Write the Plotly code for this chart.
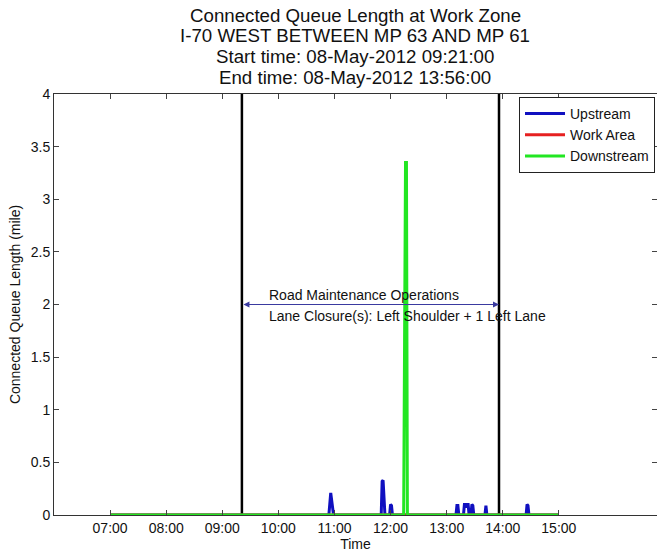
import plotly.graph_objects as go

DAY = "2012-05-08 "

# x-axis tick labels (clock time)
tick_labels = ["07:00", "08:00", "09:00", "10:00", "11:00", "12:00", "13:00", "14:00", "15:00"]
y_ticks = [0, 0.5, 1, 1.5, 2, 2.5, 3, 3.5, 4]

# Upstream queue length (mile)
upstream_times = ["07:00", "10:54", "10:56", "10:57", "10:58", "10:59",
                  "11:50", "11:51", "11:52", "11:53", "11:54",
                  "11:59", "12:00", "12:01", "12:02",
                  "13:10", "13:11", "13:12", "13:13",
                  "13:18", "13:19", "13:20", "13:21", "13:22", "13:23", "13:24",
                  "13:26", "13:27", "13:28", "13:29",
                  "13:41", "13:42", "13:43",
                  "14:25", "14:26", "14:27", "14:28",
                  "15:00"]
upstream_vals = [0, 0, 0.21, 0.13, 0.09, 0,
                 0, 0.32, 0.33, 0.11, 0,
                 0, 0.1, 0.09, 0,
                 0, 0.09, 0.09, 0,
                 0, 0.1, 0.1, 0.07, 0.1, 0.1, 0,
                 0, 0.1, 0.09, 0,
                 0, 0.09, 0,
                 0, 0.1, 0.09, 0,
                 0]

# Work area queue length (mile)
workarea_times = ["07:00", "15:00"]
workarea_vals = [0, 0]

# Downstream queue length (mile)
downstream_times = ["07:00", "12:14", "12:15", "12:16", "12:17", "12:18", "15:00"]
downstream_vals = [0, 0, 1.65, 3.35, 3.35, 0, 0]

# Work zone window
zone_start = "09:21"
zone_end = "13:56"
zone_label_y = 2
zone_text_1 = "Road Maintenance Operations"
zone_text_2 = "Lane Closure(s): Left Shoulder + 1 Left Lane"
zone_text_x = "09:48"

title_lines = ["Connected Queue Length at Work Zone",
               "I-70 WEST BETWEEN MP 63 AND MP 61",
               "Start time: 08-May-2012 09:21:00",
               "End time: 08-May-2012 13:56:00"]

FONT = "Liberation Sans, Arial, sans-serif"


def ts(hm):
    return DAY + hm


fig = go.Figure()

# Work-zone boundaries
for t in (zone_start, zone_end):
    fig.add_trace(go.Scatter(x=[ts(t), ts(t)], y=[y_ticks[0], y_ticks[-1]], mode="lines",
                             line=dict(color="black", width=2.5), showlegend=False,
                             hoverinfo="skip"))

fig.add_trace(go.Scatter(x=[ts(t) for t in upstream_times], y=upstream_vals, mode="lines",
                         name="Upstream", line=dict(color="#1010c0", width=3)))
fig.add_trace(go.Scatter(x=[ts(t) for t in workarea_times], y=workarea_vals, mode="lines",
                         name="Work Area", line=dict(color="#e62020", width=3)))
fig.add_trace(go.Scatter(x=[ts(t) for t in downstream_times], y=downstream_vals, mode="lines",
                         name="Downstream", line=dict(color="#22e622", width=3)))

annotations = []
# Double-headed arrow spanning the work zone
annotations.append(dict(x=ts(zone_end), y=zone_label_y, ax=ts(zone_start), ay=zone_label_y,
                        xref="x", yref="y", axref="x", ayref="y", text="",
                        showarrow=True, arrowside="end+start", arrowhead=2,
                        arrowsize=1.2, arrowwidth=1, arrowcolor="#3a3aa0"))
annotations.append(dict(x=ts(zone_text_x), y=zone_label_y + 0.095, xref="x", yref="y",
                        text=zone_text_1, showarrow=False, xanchor="left", yanchor="middle",
                        font=dict(family=FONT, size=14, color="#111")))
annotations.append(dict(x=ts(zone_text_x), y=zone_label_y - 0.105, xref="x", yref="y",
                        text=zone_text_2, showarrow=False, xanchor="left", yanchor="middle",
                        font=dict(family=FONT, size=14, color="#111")))

# Four-line title
for i, line in enumerate(title_lines):
    annotations.append(dict(x=355, y=15 + i * 20.7, xref="paper", yref="paper", text=line,
                            showarrow=False, font=dict(family=FONT, size=18.7, color="#111"),
                            xanchor="center", yanchor="middle"))

# convert title pixel positions to paper coordinates
plot_l, plot_t, plot_w, plot_h = 54, 94, 603, 421
for a in annotations[3:]:
    a["x"] = (a["x"] - plot_l) / plot_w
    a["y"] = (plot_t + plot_h - a["y"]) / plot_h

fig.update_layout(
    width=657, height=554,
    margin=dict(l=54, r=0, t=94, b=39),
    paper_bgcolor="white", plot_bgcolor="white",
    font=dict(family=FONT, size=14, color="#111"),
    annotations=annotations,
    legend=dict(x=0.9967, y=0.993, xanchor="right", yanchor="top",
                bgcolor="white", bordercolor="#222", borderwidth=1,
                font=dict(family=FONT, size=14, color="#111"),
                tracegroupgap=0, itemwidth=40),
    showlegend=True,
)

fig.update_xaxes(
    type="date", range=[ts("06:00"), ts("16:45")],
    tickvals=[ts(t) for t in tick_labels], ticktext=tick_labels,
    ticks="inside", ticklen=5, tickcolor="#444", tickwidth=1,
    showline=True, linecolor="#333", linewidth=1, mirror="ticks",
    showgrid=False, zeroline=False,
    title=dict(text="Time", font=dict(family=FONT, size=14), standoff=4),
    tickfont=dict(family=FONT, size=14),
)
fig.update_yaxes(
    range=[0, 4], tickvals=y_ticks, ticktext=[f"{v:g}" for v in y_ticks],
    ticks="inside", ticklen=5, tickcolor="#444", tickwidth=1,
    showline=True, linecolor="#333", linewidth=1, mirror="ticks",
    showgrid=False, zeroline=False,
    title=dict(text="Connected Queue Length (mile)", font=dict(family=FONT, size=14), standoff=6),
    tickfont=dict(family=FONT, size=14),
)

fig.write_html("out.html")
